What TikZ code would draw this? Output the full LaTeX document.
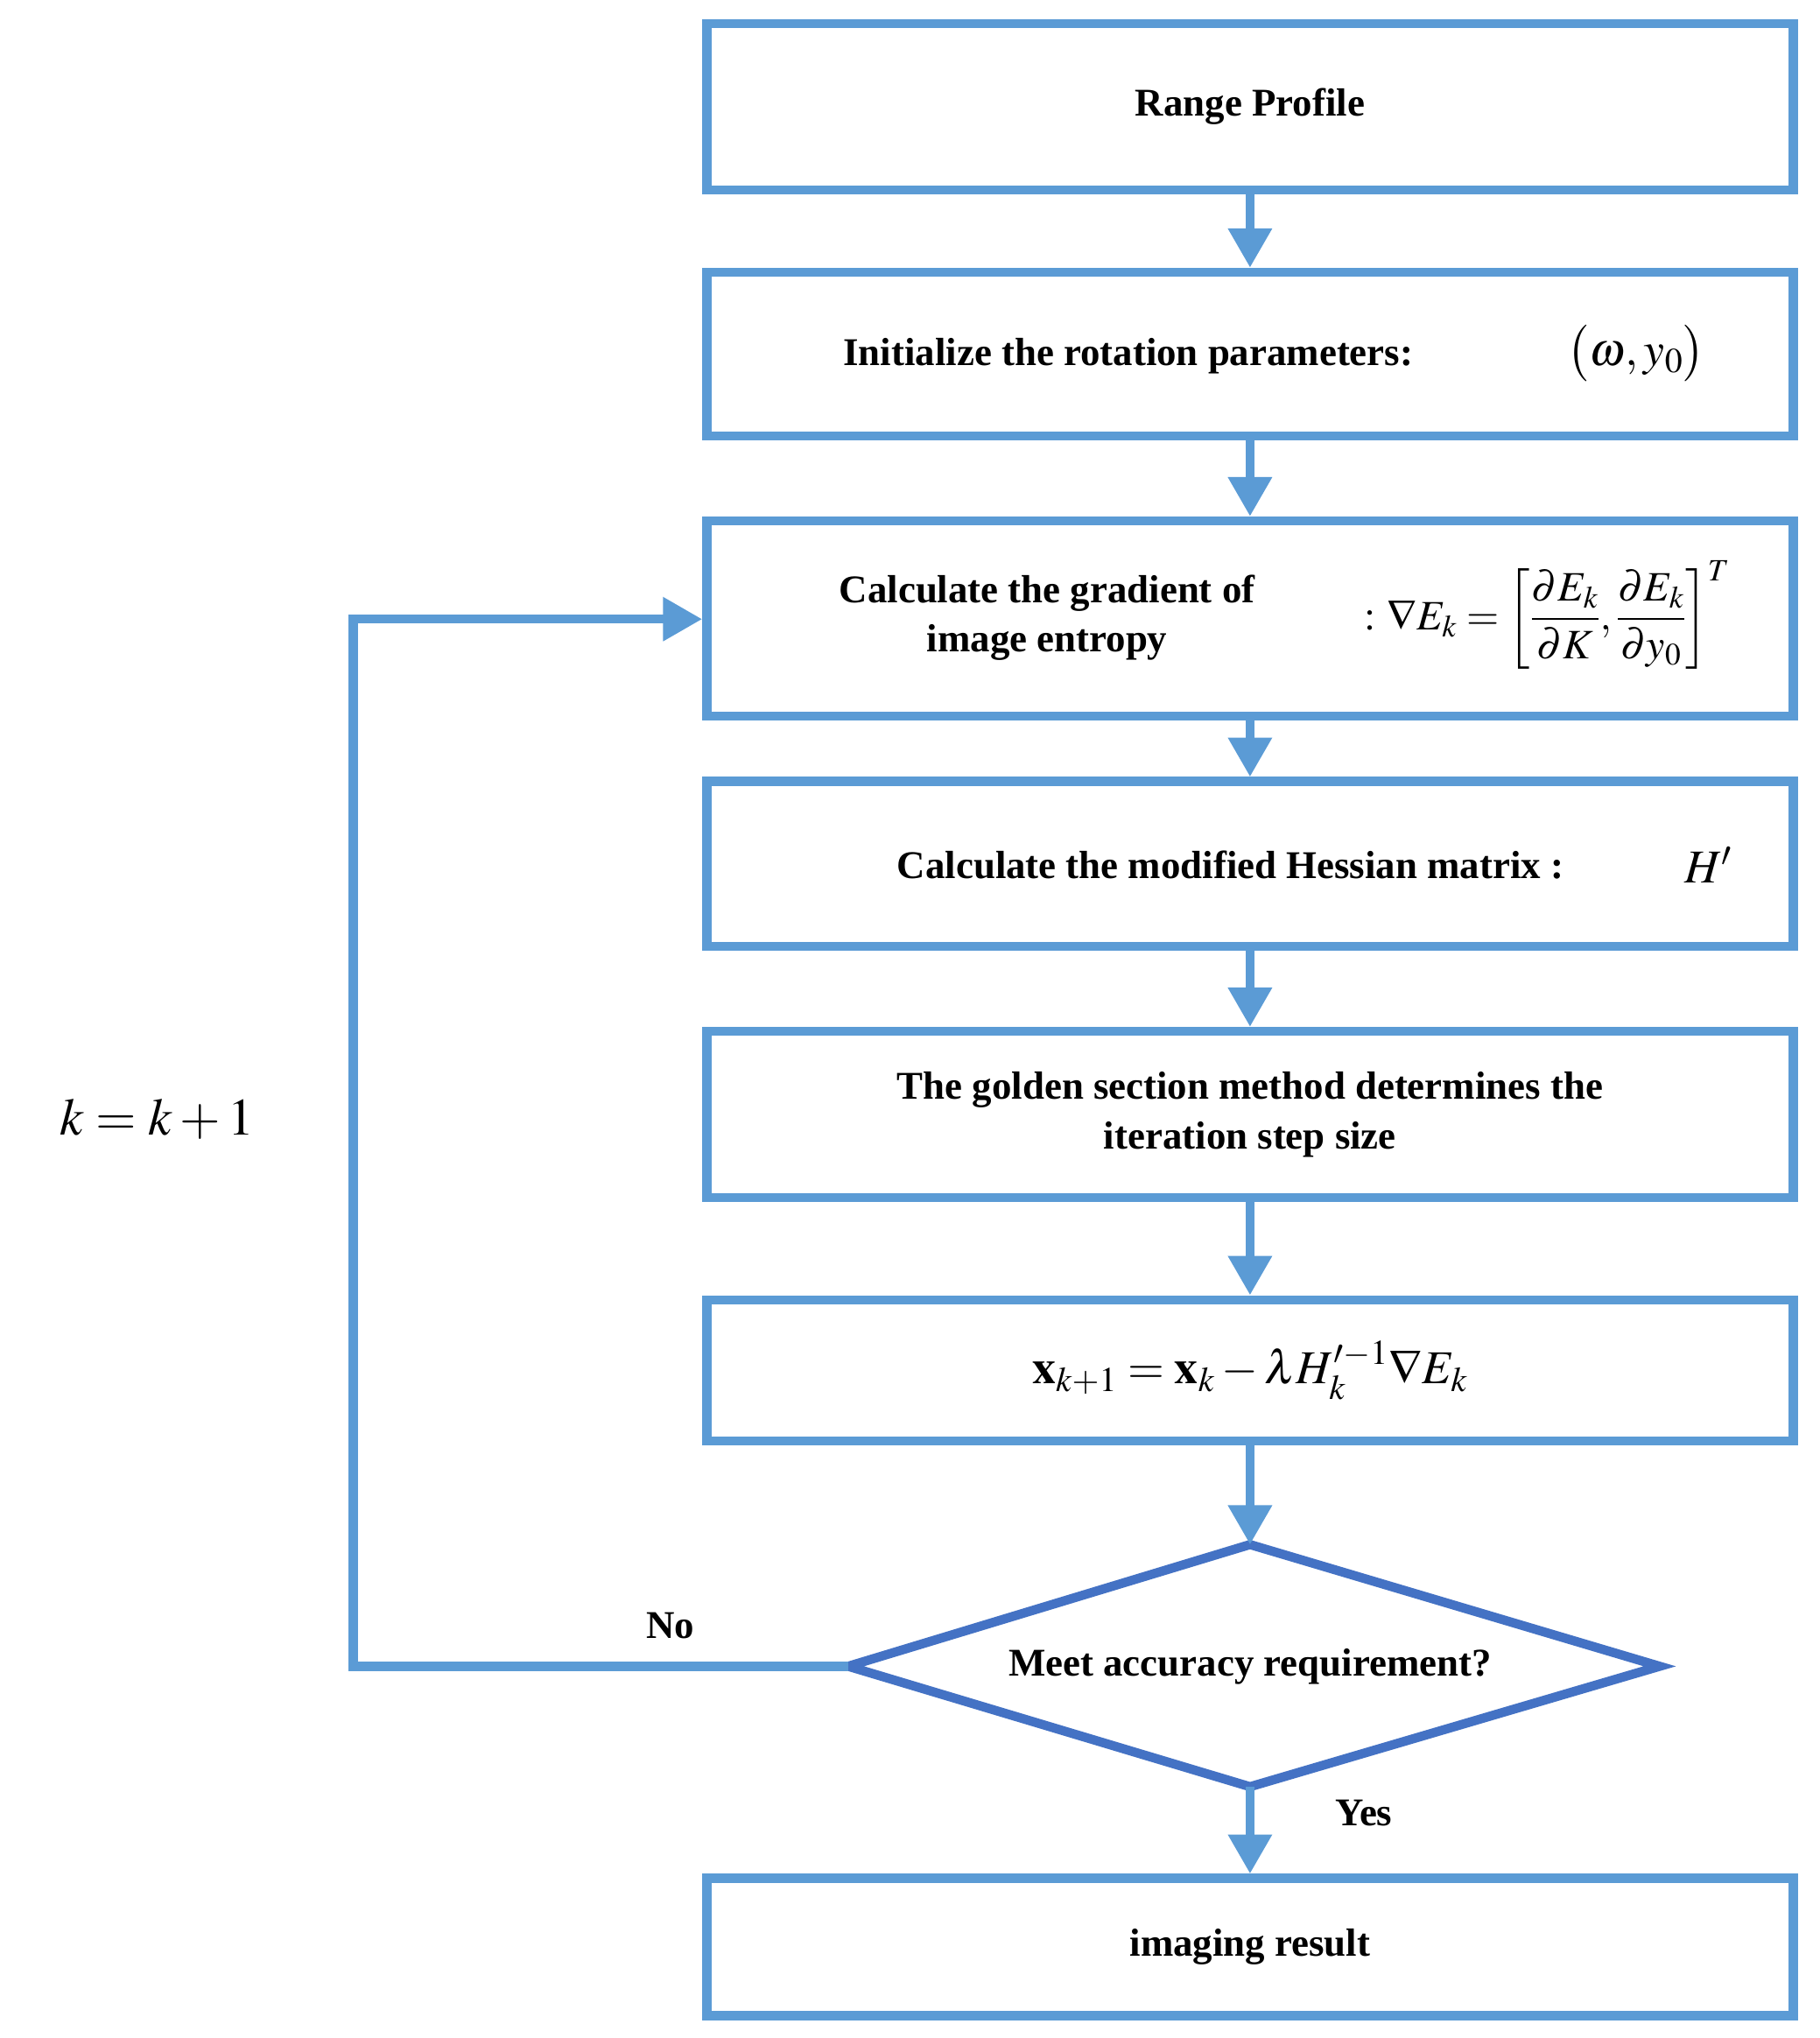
\documentclass[tikz,border=0pt]{standalone}
\usepackage{amsmath}
\usepackage{mathptmx}
\usepackage{fontspec}
\setmainfont{Liberation Serif}
\usetikzlibrary{arrows.meta}
\definecolor{bl}{RGB}{91,155,213}
\definecolor{dbl}{RGB}{68,114,196}
\begin{document}
\begin{tikzpicture}[x=1pt,y=-1pt,
 box/.style={draw=bl,line width=7pt,fill=white,minimum width=830pt,inner sep=0pt,align=center,font=\fontsize{30}{38}\selectfont\bfseries},
 arr/.style={draw=bl,line width=7pt,-{Triangle[length=30pt,width=32pt]}},
 tx/.style={font=\fontsize{30}{38}\selectfont\bfseries}]
\useasboundingbox (0,0) rectangle (1390,1557);
\node[box,minimum height=127pt] (b1) at (955,81.5) {Range Profile};
\node[box,minimum height=125pt] (b2) at (955,270.5) {};
\node[tx] (t2) at (862,272) {Initialize the rotation parameters:};
\node (m2) at (1250,270) {\fontsize{36}{40}\selectfont$\bigl(\omega,y_0\bigr)$};
\node[box,minimum height=149pt] (b3) at (955,472.5) {};
\node[tx,align=center] (t3) at (800,472) {Calculate the gradient of\\image entropy};
\node (m3) at (1182,470) {\fontsize{32}{38}\selectfont$\mathbf{:}\ \nabla E_k=\left[\dfrac{\partial E_k}{\partial K},\dfrac{\partial E_k}{\partial y_0}\right]^T$};
\node[box,minimum height=126pt] (b4) at (955,660) {};
\node[tx] (t4) at (940,661) {Calculate the modified Hessian matrix :};
\node (m4) at (1305,661) {\fontsize{36}{40}\selectfont$H'$};
\node[box,minimum height=127pt] (b5) at (955,851.5) {The golden section method determines the\\iteration step size};
\node[box,minimum height=108pt] (b6) at (955,1047) {\fontsize{36}{40}\selectfont$\mathbf{x}_{k+1}=\mathbf{x}_k-\lambda H_k'^{-1}\nabla E_k$};
\draw[dbl,line width=7pt,line join=miter] (648,1273) coordinate (dl) -- (955,1180) coordinate (dt) -- (1268,1273) -- (955,1365) coordinate (db) -- cycle;
\node[tx] (td) at (955,1273) {Meet accuracy requirement?};
\node[box,minimum height=105pt] (b7) at (955,1487.5) {imaging result};
\draw[arr] (b1) -- (b2);
\draw[arr] (b2) -- (b3);
\draw[arr] (b3) -- (b4);
\draw[arr] (b4) -- (b5);
\draw[arr] (b5) -- (b6);
\draw[arr] (b6) -- (dt);
\draw[arr] (db) -- (b7);
\coordinate (c1) at (270,1273);
\coordinate (c2) at (270,473);
\draw[arr,line join=miter] (dl) -- (c1) -- (c2) -- (b3.west|-c2);
\node[tx] (no) at (512,1242) {No};
\node[tx] (yes) at (1042,1385) {Yes};
\node (kk) at (120,855) {\fontsize{40}{44}\selectfont$k=k+1$};
\end{tikzpicture}
\end{document}
